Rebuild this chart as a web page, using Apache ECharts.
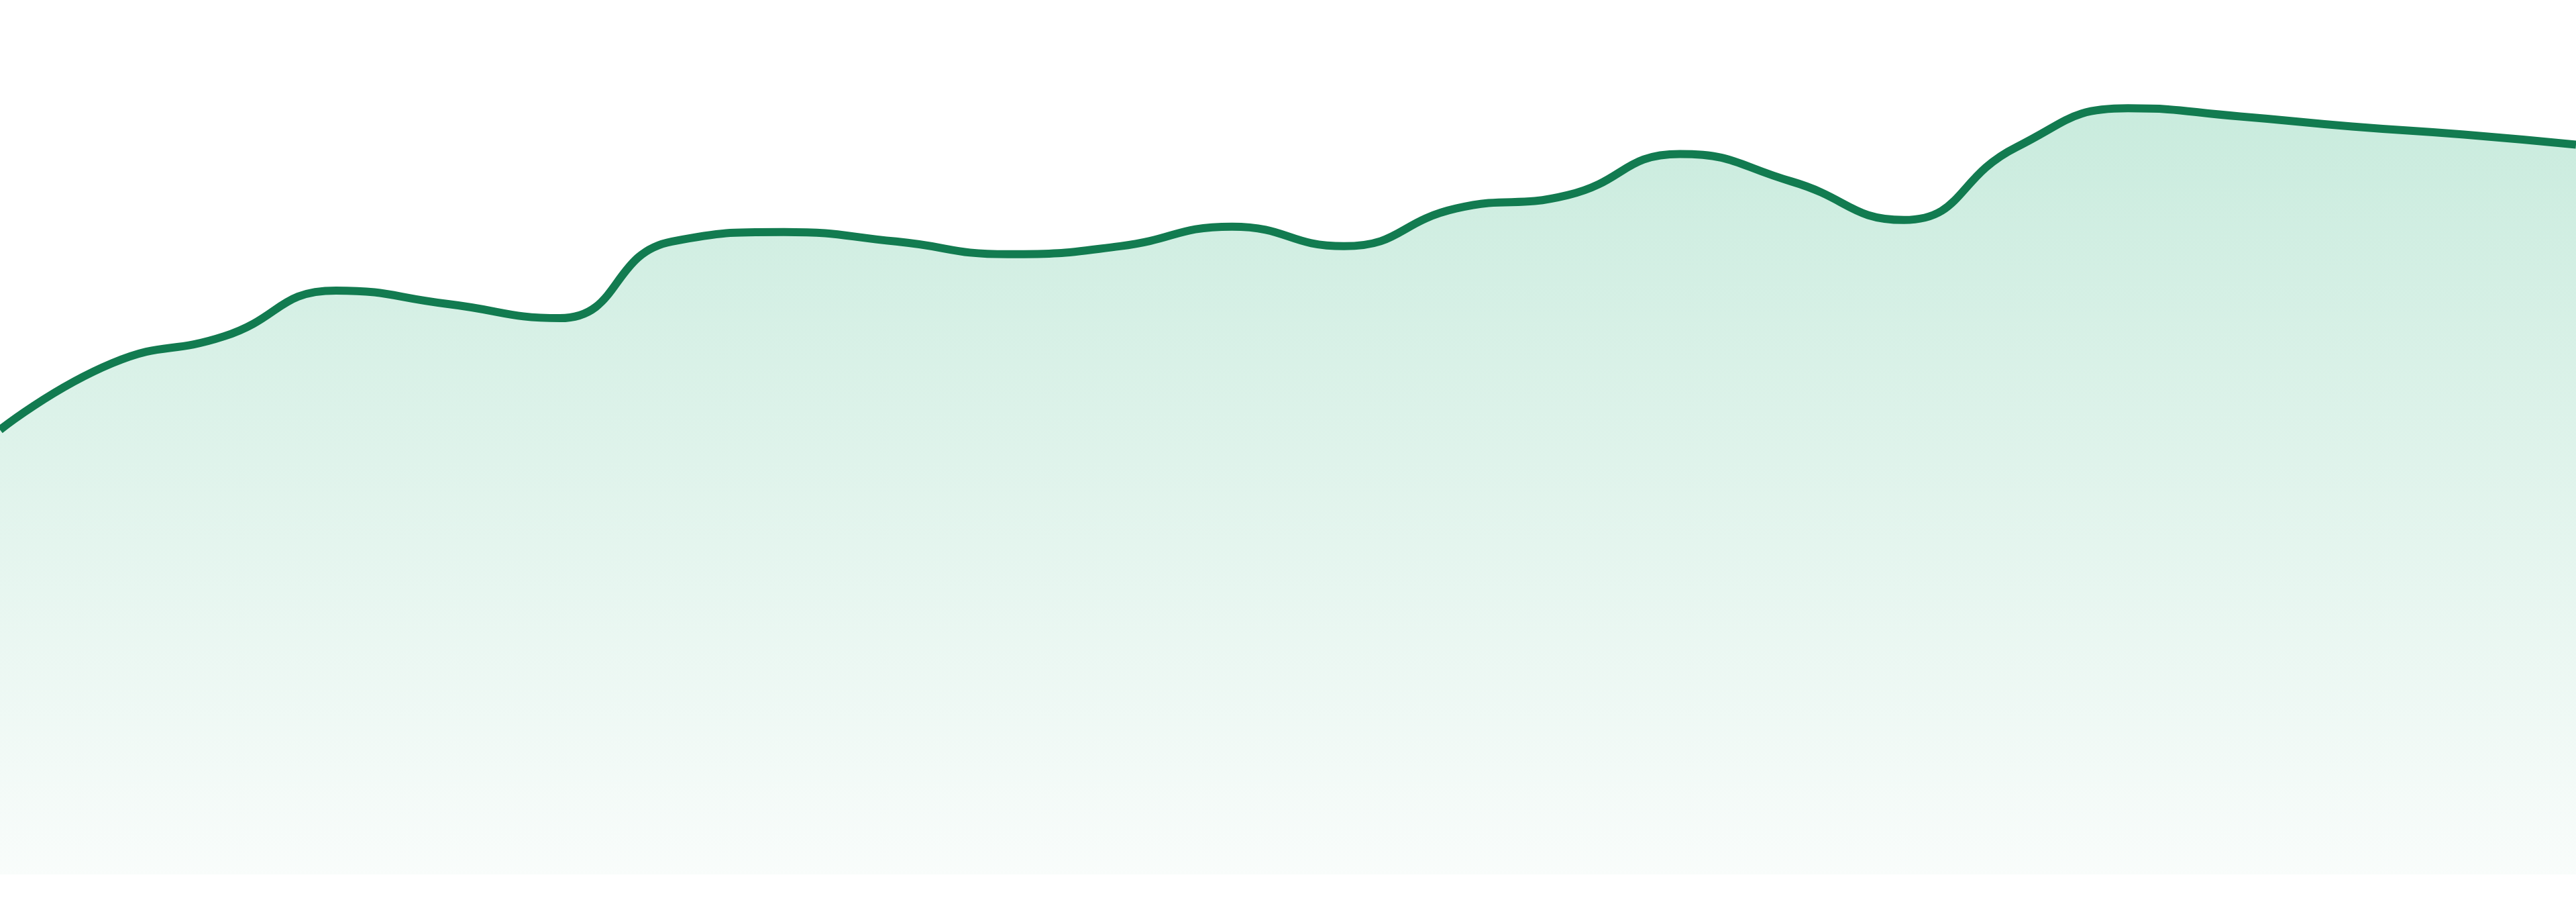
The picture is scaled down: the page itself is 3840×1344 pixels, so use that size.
<!DOCTYPE html>
<html>
<head>
<meta charset="utf-8">
<script src="https://cdn.jsdelivr.net/npm/echarts@6/dist/echarts.min.js"></script>
<style>
html,body{margin:0;padding:0;background:#ffffff;}
#chart{width:3840px;height:1344px;}
</style>
</head>
<body>
<div id="chart"></div>
<script>
const categories = ['1','2','3','4','5','6','7','8','9','10','11','12','13','14','15','16','17','18','19','20','21','22','23','24'];
const values = [66.1, 76.0, 80.0, 86.8, 84.8, 82.7, 94.1, 95.5, 94.1, 92.2, 93.4, 96.3, 93.4, 99.0, 101.0, 107.1, 103.0, 97.3, 108.1, 113.9, 112.7, 111.2, 110.0, 108.5];
const yMin = 0;
const yMax = 130;

const chart = echarts.init(document.getElementById('chart'), null, {renderer: 'canvas'});
chart.setOption({
  animation: false,
  backgroundColor: '#ffffff',
  grid: {left: 0, right: 0, top: 0, bottom: 41},
  xAxis: {
    type: 'category',
    data: categories,
    boundaryGap: false,
    show: false
  },
  yAxis: {
    type: 'value',
    min: yMin,
    max: yMax,
    show: false,
    splitLine: {show: false}
  },
  series: [{
    type: 'line',
    data: values,
    smooth: true,
    symbol: 'none',
    lineStyle: {color: '#127b50', width: 12},
    areaStyle: {
      color: new echarts.graphic.LinearGradient(0, 0, 0, 1, [
        {offset: 0, color: '#b2e3cf'},
        {offset: 1, color: '#f6fbf9'}
      ])
    }
  }]
});
</script>
</body>
</html>
